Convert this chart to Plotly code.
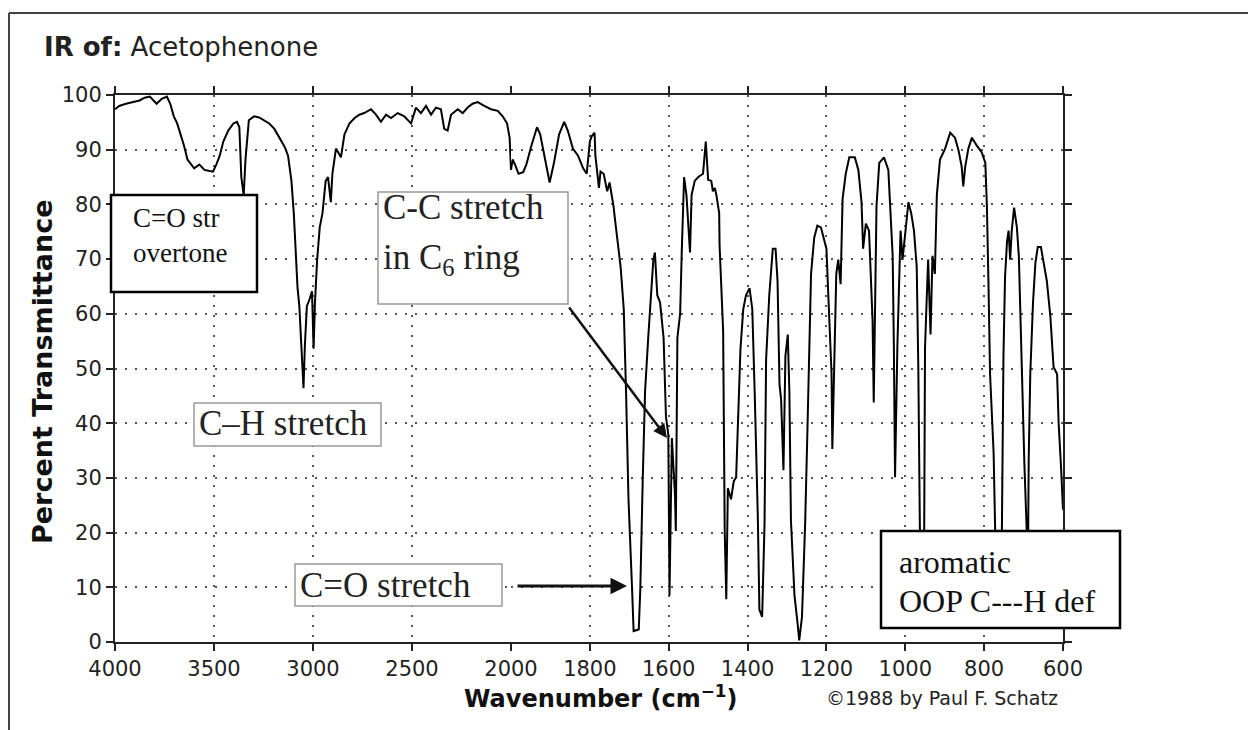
import plotly.graph_objects as go

# ---------------- data ----------------
# 4000-2000 cm-1 region (compressed scale)
wn_high = [4000, 3979, 3945, 3910, 3876, 3850, 3824, 3790, 3764, 3738, 3721, 3703, 3686, 3669,
           3652, 3634, 3617, 3600, 3574, 3548, 3522, 3505, 3488, 3471, 3453, 3428, 3402, 3384,
           3372, 3362, 3350, 3341, 3324, 3298, 3272, 3247, 3221, 3195, 3169, 3143, 3126, 3109,
           3097, 3086, 3078, 3069, 3062, 3055, 3048, 3041, 3031, 3017, 3005, 2997, 2990, 2979,
           2966, 2952, 2936, 2924, 2910, 2902, 2884, 2859, 2841, 2816, 2790, 2766, 2741, 2707,
           2682, 2657, 2631, 2606, 2572, 2539, 2505, 2480, 2455, 2429, 2404, 2379, 2354, 2337,
           2320, 2303, 2269, 2244, 2219, 2194, 2168, 2135, 2101, 2067, 2042, 2020, 2007, 2000]
t_high = [97.4, 98.0, 98.4, 98.7, 99.0, 99.5, 99.7, 98.4, 99.3, 99.7, 98.4, 96.1, 94.8, 92.8,
          90.8, 88.2, 87.3, 86.6, 87.3, 86.3, 86.1, 86.0, 87.3, 88.9, 91.5, 93.5, 94.8, 95.1,
          94.1, 85.0, 81.7, 88.2, 95.4, 96.1, 95.9, 95.4, 94.8, 93.8, 92.2, 90.5, 88.9, 84.3,
          78.4, 69.9, 64.7, 61.4, 55.6, 49.7, 46.4, 54.2, 61.4, 62.7, 64.1, 53.6, 62.1, 69.9,
          75.8, 78.4, 84.3, 85.0, 80.4, 85.6, 90.2, 88.6, 92.8, 94.8, 95.8, 96.4, 96.7, 97.4,
          96.4, 95.1, 96.4, 95.8, 96.7, 96.1, 94.8, 97.7, 96.7, 98.0, 96.4, 97.7, 97.4, 93.8,
          93.5, 96.4, 97.4, 96.7, 97.7, 98.4, 98.7, 98.0, 97.4, 97.1, 96.1, 94.8, 92.2, 86.3]

# 2000-600 cm-1 region (expanded scale)
wn_low = [2000, 1996, 1990, 1981, 1969, 1961, 1948, 1934, 1926, 1914, 1902, 1891, 1878, 1865,
          1856, 1843, 1830, 1817, 1808, 1800, 1795, 1788, 1786, 1777, 1773, 1765, 1756, 1750,
          1740, 1735, 1731, 1722, 1718, 1714, 1708, 1702, 1693, 1689, 1676, 1672, 1666, 1660,
          1652, 1647, 1639, 1635, 1629, 1622, 1613, 1607, 1601, 1598, 1592, 1584, 1582, 1578,
          1571, 1567, 1561, 1555, 1546, 1542, 1534, 1525, 1513, 1506, 1500, 1492, 1488, 1483,
          1479, 1472, 1471, 1462, 1458, 1454, 1450, 1442, 1435, 1429, 1424, 1418, 1411, 1404,
          1395, 1388, 1382, 1374, 1370, 1363, 1357, 1353, 1345, 1336, 1329, 1324, 1319, 1315,
          1309, 1304, 1298, 1294, 1290, 1281, 1273, 1269, 1262, 1254, 1248, 1244, 1239, 1231,
          1223, 1214, 1208, 1200, 1193, 1187, 1185, 1179, 1175, 1170, 1164, 1159, 1151, 1142,
          1128, 1119, 1111, 1107, 1100, 1092, 1088, 1083, 1080, 1077, 1073, 1066, 1054, 1043,
          1037, 1032, 1029, 1026, 1020, 1015, 1012, 1007, 1000, 992, 985, 978, 971, 967,
          963, 956, 952, 950, 946, 942, 936, 931, 925, 920, 912, 899, 886, 874,
          865, 857, 853, 848, 840, 831, 819, 806, 797, 793, 789, 785, 776, 772,
          763, 755, 751, 747, 742, 738, 734, 730, 724, 717, 712, 708, 704, 698,
          692, 690, 687, 683, 676, 670, 664, 656, 649, 641, 632, 624, 615, 611,
          605, 600]
t_low = [86.3, 88.2, 87.3, 85.6, 85.9, 87.3, 90.8, 94.1, 92.8, 88.2, 84.0, 87.6, 92.8, 95.1,
         93.5, 90.2, 88.9, 86.6, 85.6, 91.5, 92.5, 93.1, 88.9, 83.0, 86.0, 85.6, 82.4, 84.0,
         79.7, 76.5, 73.9, 68.6, 64.7, 60.8, 45.1, 26.1, 9.8, 2.0, 2.3, 9.8, 29.4, 45.8,
         55.6, 60.8, 69.9, 71.2, 63.4, 62.1, 55.6, 41.2, 37.9, 8.5, 37.3, 26.8, 20.3, 55.6,
         60.1, 71.2, 85.0, 81.7, 71.2, 81.7, 84.3, 85.0, 85.6, 91.5, 84.5, 84.3, 82.4, 83.0,
         81.7, 78.4, 72.5, 56.9, 20.3, 7.8, 28.1, 26.1, 29.4, 30.1, 42.5, 53.6, 60.8, 63.4,
         64.7, 60.8, 45.8, 22.9, 5.9, 4.6, 21.6, 51.6, 63.4, 71.9, 71.9, 66.0, 47.1, 44.4,
         31.4, 52.3, 56.2, 45.8, 22.2, 8.5, 3.3, 0.3, 4.6, 21.6, 39.2, 54.2, 67.3, 73.9,
         76.1, 75.8, 73.9, 71.9, 59.5, 49.0, 35.3, 58.8, 67.3, 69.9, 65.4, 81.0, 85.6, 88.6,
         88.6, 86.3, 80.4, 71.9, 76.5, 75.2, 67.3, 58.8, 43.8, 58.8, 79.7, 87.6, 88.6, 86.3,
         78.4, 70.6, 54.2, 30.1, 54.2, 71.2, 75.2, 69.9, 75.2, 80.4, 78.4, 75.2, 68.6, 50.3,
         20.9, 2.5, 20.9, 53.6, 62.1, 69.9, 56.2, 70.6, 67.3, 81.7, 88.2, 90.2, 93.1, 92.2,
         89.9, 86.9, 83.3, 86.9, 90.2, 92.2, 90.8, 89.5, 87.6, 79.7, 65.4, 49.0, 34.6, 20.3,
         2.5, 20.3, 52.3, 66.7, 73.2, 75.2, 69.9, 75.2, 79.4, 75.8, 70.6, 58.8, 45.8, 32.7,
         20.3, 3.0, 33.3, 49.0, 62.1, 69.3, 72.2, 72.2, 69.3, 66.0, 59.5, 50.3, 49.0, 39.9,
         32.0, 24.2]

ticks_high = [4000, 3500, 3000, 2500, 2000]
ticks_low = [2000, 1800, 1600, 1400, 1200, 1000, 800, 600]
y_ticks = [0, 10, 20, 30, 40, 50, 60, 70, 80, 90, 100]

# ---------------- layout helpers (page pixel geometry) ----------------
OFF = 8                                       # page body margin
W, H = 1256 - OFF, 730 - OFF                  # figure size
PL, PR, PT, PB = 115, 1063, 95, 642           # plot area in page pixels
SPLIT = 511                                   # page pixel x of 2000 cm-1


def px(x):
    return (x - PL) / (PR - PL)


def py(y):
    return (PB - y) / (PB - PT)


d = px(SPLIT)

fig = go.Figure()
line_style = dict(color="black", width=2)
fig.add_trace(go.Scatter(x=wn_high, y=t_high, xaxis="x", yaxis="y", mode="lines",
                         line=line_style, showlegend=False, hoverinfo="x+y"))
fig.add_trace(go.Scatter(x=wn_low, y=t_low, xaxis="x2", yaxis="y2", mode="lines",
                         line=line_style, showlegend=False, hoverinfo="x+y"))

tick_font = dict(family="DejaVu Sans", size=21, color="#222")
grid = dict(showgrid=True, gridcolor="#555", gridwidth=2, griddash="2px,8px")
axis_common = dict(showline=True, linecolor="#222", linewidth=2, ticks="outside",
                   ticklen=7, tickwidth=2, tickcolor="#222", zeroline=False,
                   tickfont=tick_font, **grid)

fig.update_layout(
    width=W, height=H,
    margin=dict(l=PL - OFF, r=W - (PR - OFF), t=PT - OFF, b=H - (PB - OFF), pad=0),
    paper_bgcolor="white", plot_bgcolor="white",
    xaxis=dict(domain=[0, d], range=[4000, 2000], tickmode="array",
               tickvals=ticks_high, ticktext=[str(v) for v in ticks_high],
               anchor="y", mirror="ticks", **axis_common),
    xaxis2=dict(domain=[d, 1], range=[2000, 600], tickmode="array",
                tickvals=ticks_low, ticktext=[""] + [str(v) for v in ticks_low[1:]],
                anchor="y2", mirror="ticks", **axis_common),
    yaxis=dict(domain=[0, 1], range=[0, 100], tickmode="array", tickvals=y_ticks,
               ticktext=[str(v) for v in y_ticks], anchor="x", side="left",
               **axis_common),
    yaxis2=dict(domain=[0, 1], range=[0, 100], tickmode="array", tickvals=y_ticks,
                showticklabels=False, anchor="x2", side="right", **axis_common),
)

shapes = []
# outer frame (top and left edges)
shapes.append(dict(type="line", xref="paper", yref="paper", x0=px(9), x1=px(1300),
                   y0=py(13), y1=py(13), line=dict(color="#444", width=2)))
shapes.append(dict(type="line", xref="paper", yref="paper", x0=px(9), x1=px(9),
                   y0=py(13), y1=py(760), line=dict(color="#444", width=2)))


def box(x0, y0, x1, y1, color, width):
    shapes.append(dict(type="rect", xref="paper", yref="paper", x0=px(x0), x1=px(x1),
                       y0=py(y1), y1=py(y0), fillcolor="white",
                       line=dict(color=color, width=width), layer="above"))


box(111, 195, 257, 292, "black", 2.5)       # C=O str overtone
box(378, 192, 568, 304, "#999", 1.5)        # C-C stretch
box(194, 403, 381, 446, "#999", 1.5)        # C-H stretch
box(295, 564, 502, 606, "#999", 1.5)        # C=O stretch
box(881, 531, 1120, 628, "black", 2.5)      # aromatic OOP

fig.update_layout(shapes=shapes)

ann = []


def text(x, y, s, size, family="Liberation Serif", xanchor="left", color="#111", **kw):
    ann.append(dict(xref="paper", yref="paper", x=px(x), y=py(y), text=s, showarrow=False,
                    xanchor=xanchor, yanchor="middle",
                    font=dict(family=family, size=size, color=color), **kw))


text(131, 218, "C=O str", 27)
text(131, 253, "overtone", 27)
text(381, 207, "C-C stretch", 35, color="#222")
text(381, 259, "in C<sub>6</sub> ring", 35, color="#222")
text(197, 424, "C\u2013H stretch", 35, color="#222")
text(298, 585, "C=O stretch", 35, color="#222")
text(897, 562, "aromatic", 32)
text(897, 601, "OOP C---H def", 32)

# title, axis titles, credit
text(42, 47, "<b>IR of:</b> Acetophenone", 26, family="DejaVu Sans", color="#222")
text(600, 697, "<b>Wavenumber (cm<sup>\u22121</sup>)</b>", 24, family="DejaVu Sans",
     xanchor="center", color="#111")
text(942, 698, "\u00a91988 by Paul F. Schatz", 19, family="DejaVu Sans",
     xanchor="center", color="#222")
ann.append(dict(xref="paper", yref="paper", x=px(43), y=py(372),
                text="<b>Percent Transmittance</b>", showarrow=False, textangle=-90,
                xanchor="center", yanchor="middle",
                font=dict(family="DejaVu Sans", size=27, color="#111")))

# arrows
ann.append(dict(xref="paper", yref="paper", x=px(667), y=py(438), ax=568 - 667,
                ay=306 - 438, axref="pixel", ayref="pixel", text="", showarrow=True,
                arrowhead=2, arrowsize=1.1, arrowwidth=2.5, arrowcolor="#111"))
ann.append(dict(xref="paper", yref="paper", x=px(627), y=py(586), ax=516 - 627, ay=0,
                axref="pixel", ayref="pixel", text="", showarrow=True,
                arrowhead=2, arrowsize=1.1, arrowwidth=3, arrowcolor="#111"))

fig.update_layout(annotations=ann)

fig.write_html("out.html")
